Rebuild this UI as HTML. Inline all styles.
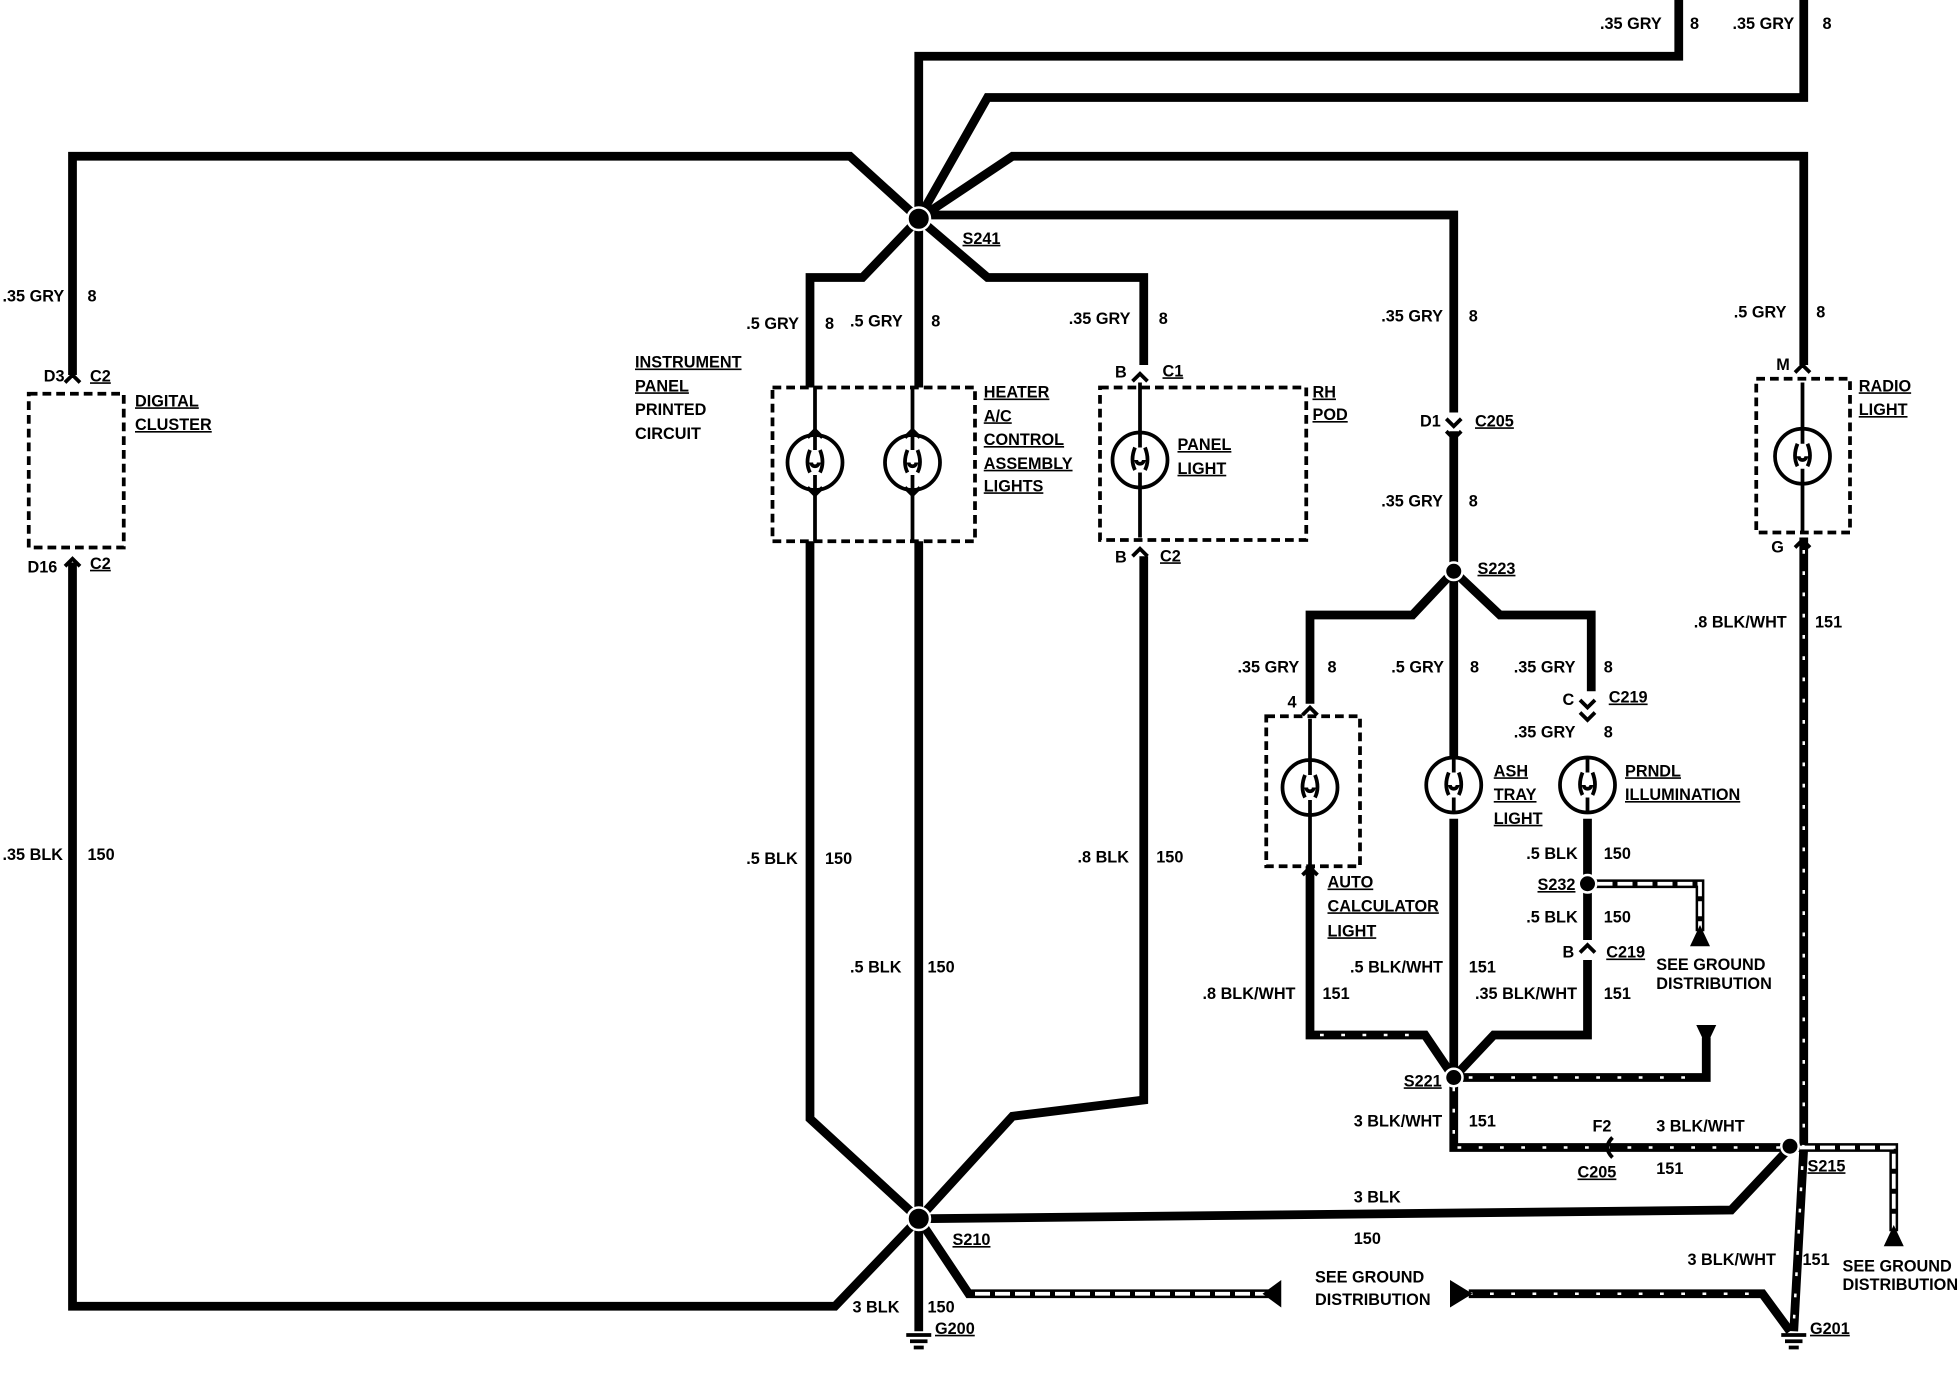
<!DOCTYPE html>
<html><head><style>
html,body{margin:0;padding:0;background:#fff;}
svg{display:block;}
text{font-family:"Liberation Sans",sans-serif;font-weight:bold;font-size:13px;fill:#000;}
.u{text-decoration:underline;}
</style></head><body>
<svg width="1960" height="1376" viewBox="0 0 1568 1100.8" xmlns="http://www.w3.org/2000/svg">
<defs>
<g id="b" fill="none" stroke="#000" stroke-width="3"><circle r="22"/><path d="M0,-22 L0,-10 M-4,-10 Q-8,0 -4,8 M4,-10 Q8,0 4,8 M-3,0 a3,3 0 1,0 6,0 M0,10 L0,22"/></g>
</defs>
<rect width="1568" height="1101" fill="#fff"/>
<g fill="none" stroke="#000" stroke-width="7" stroke-linejoin="miter">
<polyline points="735,175 735,45 1343,45 1343,0"/>
<polyline points="735,175 790,78 1443,78 1443,0"/>
<polyline points="735,175 810,125 1443,125 1443,292"/>
<polyline points="58,300 58,125 680,125 735,175"/>
<polyline points="735,172 1163,172 1163,330"/>
<polyline points="735,175 690,222 648,222 648,310"/>
<polyline points="735,175 735,310"/>
<polyline points="735,175 790,222 915,222 915,292"/>
<polyline points="648,433 648,895 735,975"/>
<polyline points="735,433 735,1065"/>
<polyline points="915,445 915,880 810,893 735,975"/>
<polyline points="58,450 58,1045 668,1045 735,975"/>
<polyline points="735,975 1385,968 1432,918"/>
<polyline points="1163,345 1163,457"/>
<polyline points="1163,457 1130,492 1048,492 1048,563"/>
<polyline points="1163,457 1163,605"/>
<polyline points="1163,457 1200,492 1273,492 1273,553"/>
<polyline points="1270,655 1270,752"/>
<polyline points="1270,768 1270,800"/>
<polyline points="1163,655 1163,700"/>
</g>
<g fill="none" stroke-linejoin="miter">
<g stroke="#000" stroke-width="7">
<polyline points="1048,693 1048,828 1140,828 1163,862"/>
<polyline points="1163,700 1163,862"/>
<polyline points="1270,800 1270,828 1195,828 1163,862"/>
<polyline points="1163,862 1163,918 1432,918"/>
<polyline points="1443,430 1443,918 1435,1065"/>
<polyline points="1432,918 1515,918 1515,985"/>
<polyline points="1163,862 1365,862 1365,830"/>
<polyline points="1175,1035 1410,1035 1432,1065"/>
<polyline points="1270,707 1360,707 1360,745"/>
<polyline points="735,975 775,1035 1015,1035"/>
</g>
<g stroke="#fff" stroke-width="2" stroke-dasharray="3 14">
<polyline points="1163,870 1163,918 1425,918"/>
<polyline points="1443,440 1443,910 1435,1060"/>
<polyline points="1056,828 1140,828"/>
<polyline points="1175,1035 1410,1035"/>
<polyline points="1175,862 1360,862"/>
</g>
<g stroke="#fff" stroke-width="3" stroke-dasharray="12 4">
<polyline points="780,1035 1015,1035"/>
<polyline points="1278,707 1360,707 1360,745"/>
<polyline points="1440,918 1515,918 1515,985"/>
</g>
</g>
<g fill="#000">
<polygon points="1025,1024 1025,1046 1010,1035"/>
<polygon points="1160,1024 1160,1046 1178,1035"/>
<polygon points="1360,740 1352,757 1368,757"/>
<polygon points="1515,980 1507,997 1523,997"/>
<polygon points="1365,837 1357,820 1373,820"/>
</g>
<g fill="#000" stroke="#fff" stroke-width="2">
<circle cx="735" cy="175" r="9"/>
<circle cx="735" cy="975" r="9"/>
<circle cx="1163" cy="457" r="7"/>
<circle cx="1163" cy="862" r="7"/>
<circle cx="1270" cy="707" r="7"/>
<circle cx="1432" cy="917" r="7"/>
</g>
<g stroke="#000" stroke-width="3">
<line x1="725" y1="1068" x2="745" y2="1068"/><line x1="728" y1="1073" x2="742" y2="1073"/><line x1="731" y1="1078" x2="739" y2="1078"/>
<line x1="1425" y1="1068" x2="1445" y2="1068"/><line x1="1428" y1="1073" x2="1442" y2="1073"/><line x1="1431" y1="1078" x2="1439" y2="1078"/>
</g>
<g fill="none" stroke="#000" stroke-width="3" stroke-dasharray="7 4">
<rect x="23" y="315" width="76" height="123"/>
<rect x="618" y="310" width="162" height="123"/>
<rect x="880" y="310" width="165" height="122"/>
<rect x="1405" y="303" width="75" height="123"/>
<rect x="1013" y="573" width="75" height="120"/>
</g>
<use href="#b" x="652" y="370"/><use href="#b" x="730" y="370"/><use href="#b" x="912" y="368"/>
<use href="#b" x="1442" y="365"/><use href="#b" x="1048" y="630"/><use href="#b" x="1163" y="628"/><use href="#b" x="1270" y="628"/>
<g fill="none" stroke="#000" stroke-width="3">
<path d="M652,310V348M652,392V433M730,310V348M730,392V433M912,306V346M912,390V430M1442,306V343M1442,387V426M1048,575V608M1048,652V693"/>
<path d="M52,306 L58,300 L64,306 M52,453 L58,447 L64,453 M906,305 L912,299 L918,305 M906,445 L912,439 L918,445 M1157,335 L1163,341 L1169,335 M1157,345 L1163,351 L1169,345 M1436,298 L1442,292 L1448,298 M1436,438 L1442,432 L1448,438 M1042,572 L1048,566 L1054,572 M1042,700 L1048,694 L1054,700 M1264,560 L1270,566 L1276,560 M1264,570 L1270,576 L1276,570 M1264,762 L1270,756 L1276,762 M1290,910 Q1282,918 1290,926"/>
<path d="M646,390 l6,6 l6,-6 M724,390 l6,6 l6,-6 M646,350 l6,-6 l6,6 M724,350 l6,-6 l6,6"/>
</g>
<g>
<text x="1280" y="23">.35 GRY</text><text x="1352" y="23">8</text>
<text x="1386" y="23">.35 GRY</text><text x="1458" y="23">8</text>
<text x="2" y="241">.35 GRY</text><text x="70" y="241">8</text>
<text x="35" y="305">D3</text><text x="72" y="305" class="u">C2</text>
<text x="108" y="325" class="u">DIGITAL</text><text x="108" y="344" class="u">CLUSTER</text>
<text x="22" y="458">D16</text><text x="72" y="455" class="u">C2</text>
<text x="2" y="688">.35 BLK</text><text x="70" y="688">150</text>
<text x="770" y="195" class="u">S241</text>
<text x="597" y="263">.5 GRY</text><text x="660" y="263">8</text>
<text x="680" y="261">.5 GRY</text><text x="745" y="261">8</text>
<text x="855" y="259">.35 GRY</text><text x="927" y="259">8</text>
<text x="508" y="294" class="u">INSTRUMENT</text><text x="508" y="313" class="u">PANEL</text><text x="508" y="332">PRINTED</text><text x="508" y="351">CIRCUIT</text>
<text x="787" y="318" class="u">HEATER</text><text x="787" y="337" class="u">A/C</text><text x="787" y="356" class="u">CONTROL</text><text x="787" y="375" class="u">ASSEMBLY</text><text x="787" y="393" class="u">LIGHTS</text>
<text x="892" y="302">B</text><text x="930" y="301" class="u">C1</text>
<text x="1050" y="318" class="u">RH</text><text x="1050" y="336" class="u">POD</text>
<text x="942" y="360" class="u">PANEL</text><text x="942" y="379" class="u">LIGHT</text>
<text x="892" y="450">B</text><text x="928" y="449" class="u">C2</text>
<text x="597" y="691">.5 BLK</text><text x="660" y="691">150</text>
<text x="680" y="778">.5 BLK</text><text x="742" y="778">150</text>
<text x="862" y="690">.8 BLK</text><text x="925" y="690">150</text>
<text x="1105" y="257">.35 GRY</text><text x="1175" y="257">8</text>
<text x="1136" y="341">D1</text><text x="1180" y="341" class="u">C205</text>
<text x="1105" y="405">.35 GRY</text><text x="1175" y="405">8</text>
<text x="1182" y="459" class="u">S223</text>
<text x="1387" y="254">.5 GRY</text><text x="1453" y="254">8</text>
<text x="1421" y="296">M</text>
<text x="1487" y="313" class="u">RADIO</text><text x="1487" y="332" class="u">LIGHT</text>
<text x="1417" y="442">G</text>
<text x="1355" y="502">.8 BLK/WHT</text><text x="1452" y="502">151</text>
<text x="990" y="538">.35 GRY</text><text x="1062" y="538">8</text>
<text x="1113" y="538">.5 GRY</text><text x="1176" y="538">8</text>
<text x="1211" y="538">.35 GRY</text><text x="1283" y="538">8</text>
<text x="1030" y="566">4</text>
<text x="1250" y="564">C</text><text x="1287" y="562" class="u">C219</text>
<text x="1211" y="590">.35 GRY</text><text x="1283" y="590">8</text>
<text x="1195" y="621" class="u">ASH</text><text x="1195" y="640" class="u">TRAY</text><text x="1195" y="659" class="u">LIGHT</text>
<text x="1300" y="621" class="u">PRNDL</text><text x="1300" y="640" class="u">ILLUMINATION</text>
<text x="1221" y="687">.5 BLK</text><text x="1283" y="687">150</text>
<text x="1062" y="710" class="u">AUTO</text><text x="1062" y="729" class="u">CALCULATOR</text><text x="1062" y="749" class="u">LIGHT</text>
<text x="1230" y="712" class="u">S232</text>
<text x="1221" y="738">.5 BLK</text><text x="1283" y="738">150</text>
<text x="1250" y="766">B</text><text x="1285" y="766" class="u">C219</text>
<text x="1325" y="776">SEE GROUND</text><text x="1325" y="791">DISTRIBUTION</text>
<text x="1080" y="778">.5 BLK/WHT</text><text x="1175" y="778">151</text>
<text x="1180" y="799">.35 BLK/WHT</text><text x="1283" y="799">151</text>
<text x="962" y="799">.8 BLK/WHT</text><text x="1058" y="799">151</text>
<text x="1123" y="869" class="u">S221</text>
<text x="1083" y="901">3 BLK/WHT</text><text x="1175" y="901">151</text>
<text x="1274" y="905">F2</text><text x="1325" y="905">3 BLK/WHT</text>
<text x="1262" y="942" class="u">C205</text><text x="1325" y="939">151</text>
<text x="1446" y="937" class="u">S215</text>
<text x="1083" y="962">3 BLK</text><text x="1083" y="995">150</text>
<text x="762" y="996" class="u">S210</text>
<text x="1052" y="1026">SEE GROUND</text><text x="1052" y="1044">DISTRIBUTION</text>
<text x="1350" y="1012">3 BLK/WHT</text><text x="1442" y="1012">151</text>
<text x="1474" y="1017">SEE GROUND</text><text x="1474" y="1032">DISTRIBUTION</text>
<text x="682" y="1050">3 BLK</text><text x="742" y="1050">150</text>
<text x="748" y="1067" class="u">G200</text>
<text x="1448" y="1067" class="u">G201</text>
</g>
</svg>
</body></html>
